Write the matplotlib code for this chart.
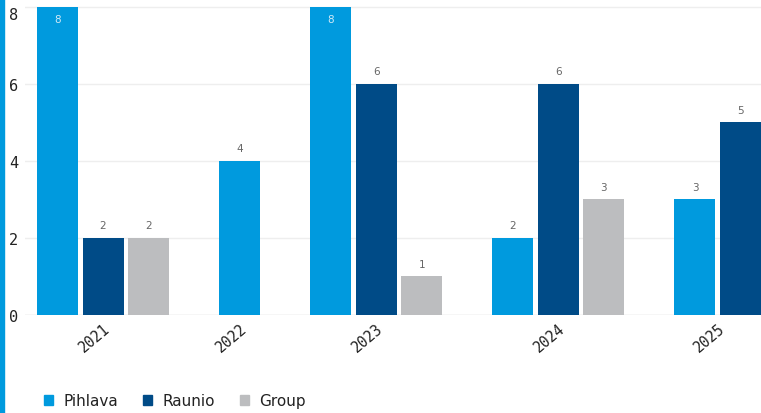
import matplotlib.pyplot as plt
from matplotlib.patches import Rectangle, Patch

# data
years = ['2021', '2022', '2023', '2024', '2025']
series = ['Pihlava', 'Raunio', 'Group']
pihlava = [8, 4, 8, 2, 3]
raunio = [2, 0, 6, 6, 5]
group = [2, 0, 1, 3, 0]
colors = ['#009ade', '#004b87', '#bcbdbf']

values = [pihlava, raunio, group]

fig = plt.figure(figsize=(7.61, 4.14), dpi=100)
W, H = 761, 414
ax = fig.add_axes([25 / W, (H - 316) / H, (W - 25) / W, 316 / H])

# bars: zero values are skipped, one empty slot between years
slot = 0
centers = []
for yi in range(len(years)):
    used = []
    for si in range(len(series)):
        v = values[si][yi]
        if v == 0:
            continue
        ax.bar(slot, v, width=0.9, color=colors[si], zorder=3)
        if v >= 8:
            ax.text(slot, v - 0.33, str(v), ha='center', va='center',
                    fontsize=7.5, color='#cfe9f7', zorder=4)
        else:
            ax.text(slot, v + 0.33, str(v), ha='center', va='center',
                    fontsize=7.5, color='#666666', zorder=4)
        used.append(slot)
        slot += 1
    centers.append(sum(used) / len(used))
    slot += 1

ax.set_xlim(-0.714, 15.45)
ax.set_ylim(0, 8.2)
ax.set_yticks([0, 2, 4, 6, 8])
ylabels = ax.set_yticklabels(['0', '2', '4', '6', '8'], family='DejaVu Sans Mono',
                             fontsize=11, color='#222222')
ylabels[-1].set_va('top')
ax.set_xticks(centers)
ax.set_xticklabels(years, family='DejaVu Sans Mono', fontsize=10.5,
                   rotation=40, ha='right', rotation_mode='anchor', color='#222222')
ax.tick_params(axis='both', length=0)
ax.tick_params(axis='y', pad=5)
ax.tick_params(axis='x', pad=4)
ax.grid(axis='y', color='#eeeeee', linewidth=1, zorder=0)
for s in ax.spines.values():
    s.set_visible(False)
ax.axhline(0, color='#e6e6e6', linewidth=1, zorder=2)

# blue strip on the left edge
fig.patches.append(Rectangle((0, 0), 4 / W, 1, transform=fig.transFigure,
                             color='#009ade', zorder=0))

handles = [Patch(color=c, label=s) for c, s in zip(colors, series)]
fig.legend(handles=handles, loc='center left', bbox_to_anchor=(30 / W, 1 - 402 / H),
           ncol=3, frameon=False, fontsize=11, handlelength=0.6,
           handleheight=0.6, handletextpad=0.7, columnspacing=1.6,
           labelcolor='#222222')

plt.savefig('out.png', dpi=100)
